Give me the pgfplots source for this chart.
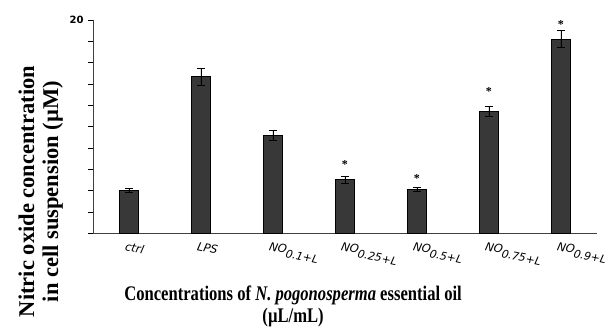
\documentclass[border=0pt]{standalone}
\usepackage{pgfplots}
\pgfplotsset{compat=1.18}
\usepackage{fontspec}
\setmainfont{Liberation Serif}
\newfontfamily\tickfont{DejaVu Sans}
\newcommand{\lbl}[2]{#1\raisebox{-3.5pt}{\fontsize{11}{12}\selectfont #2}}
\begin{document}
\begin{tikzpicture}
\useasboundingbox (-93pt,-94pt) rectangle (520pt,233pt);
\begin{axis}[
  at={(0,0)}, anchor=south west,
  scale only axis,
  width=504pt, height=213pt,
  xmin=-0.5, xmax=6.5,
  ymin=0, ymax=20,
  axis x line*=bottom,
  axis y line*=left,
  ybar, bar width=19pt, bar shift=0pt,
  xtick={0,1,2,3,4,5,6},
  xticklabels={ctrl, LPS, \lbl{NO}{0.1+L}, \lbl{NO}{0.25+L}, \lbl{NO}{0.5+L}, \lbl{NO}{0.75+L}, \lbl{NO}{0.9+L}},
  xtick style={draw=none},
  xticklabel style={font=\tickfont\itshape\fontsize{11.5}{12}\selectfont, rotate=-12, anchor=north west, xshift=-3pt, yshift=-3pt, inner sep=1pt},
  ytick={0,2,4,6,8,10,12,14,16,18,20},
  yticklabels={,,,,,,,,,,20},
  yticklabel style={font=\tickfont\bfseries\fontsize{10}{11}\selectfont, xshift=-1pt},
  /pgf/number format/assume math mode=true,
  tick align=outside,
  ytick style={black, thin},
  major tick length=5pt,
  ylabel={Nitric oxide concentration\\in cell suspension (µM)},
  ylabel style={font=\bfseries\fontsize{22.5}{24}\selectfont, align=center,
     at={(axis description cs:-0.0595,0.195)}, anchor=south, inner sep=0pt},
  xlabel={\scalebox{1}[1.25]{\begin{tabular}{@{}c@{}}Concentrations of \textit{N. pogonosperma} essential oil\\(µL/mL)\end{tabular}}},
  xlabel style={font=\bfseries\fontsize{16.6}{17}\selectfont, inner sep=0pt,
     at={(axis description cs:0.397,-0.248)}, anchor=north},
  axis line style={black!75, thin},
  clip=false,
]
\addplot[draw=black, line width=0.8pt, fill=black!78,
  error bars/.cd, y dir=both, y explicit,
  error bar style={black, line width=0.8pt},
  error mark options={rotate=90, mark size=4pt, black, line width=0.8pt}]
coordinates {
 (0,4.0) +- (0,0.2)
 (1,14.7) +- (0,0.8)
 (2,9.15) +- (0,0.45)
 (3,5.0) +- (0,0.3)
 (4,4.1) +- (0,0.2)
 (5,11.4) +- (0,0.45)
 (6,18.2) +- (0,0.8)
};
\addplot[draw=none, fill=none, mark=none,
  nodes near coords={\textbf{*}},
  every node near coord/.append style={anchor=center, font=\fontsize{12}{12}\selectfont, yshift=-3pt}]
coordinates {
 (3,6.7) (4,5.4) (5,13.6) (6,19.9)
};
\end{axis}
\end{tikzpicture}
\end{document}
